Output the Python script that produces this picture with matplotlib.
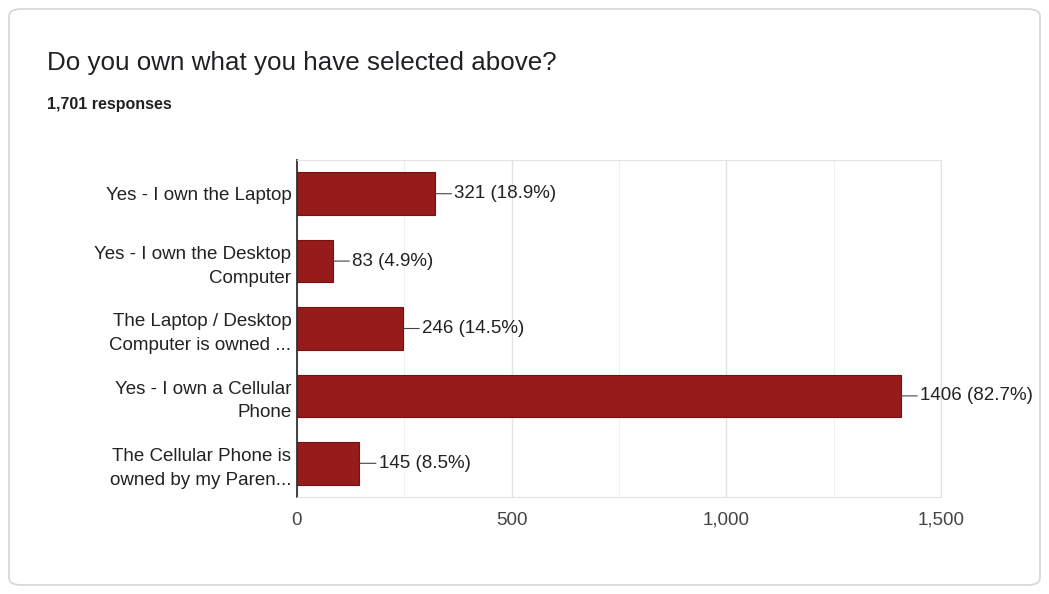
import matplotlib.pyplot as plt
from matplotlib.patches import FancyBboxPatch

# Respostas do formulário
categorias = [
    "Yes - I own the Laptop",
    "Yes - I own the Desktop\nComputer",
    "The Laptop / Desktop\nComputer is owned ...",
    "Yes - I own a Cellular\nPhone",
    "The Cellular Phone is\nowned by my Paren...",
]
respostas = [321, 83, 246, 1406, 145]
percentuais = ["18.9%", "4.9%", "14.5%", "82.7%", "8.5%"]
ticks_x = [0, 500, 1000, 1500]
rotulos_x = ["0", "500", "1,000", "1,500"]

plt.rcParams["font.family"] = ["Liberation Sans", "DejaVu Sans"]

fig = plt.figure(figsize=(10.49, 5.94), dpi=100)
fig.patch.set_facecolor("white")

# Cartão com borda arredondada
cartao = FancyBboxPatch((9 / 1049, 9 / 594), 1031 / 1049, 576 / 594,
                        boxstyle="round,pad=0,rounding_size=0.012",
                        transform=fig.transFigure, facecolor="none",
                        edgecolor="#d6d6d6", linewidth=1.2, zorder=-1)
fig.patches.append(cartao)

fig.text(47 / 1049, 1 - 63 / 594, "Do you own what you have selected above?",
         fontsize=18.7, color="#202124", va="center", ha="left")
fig.text(47 / 1049, 1 - 104 / 594, "1,701 responses",
         fontsize=11.5, color="#202124", va="center", ha="left", fontweight="bold")

ax = fig.add_axes([297 / 1049, 1 - 497 / 594, (941 - 297) / 1049, (497 - 160) / 594])
y = range(len(categorias))
ax.barh(y, respostas, height=0.63, color="#961b1b", edgecolor="#761111", linewidth=0.8, zorder=3)
ax.set_ylim(len(categorias) - 0.5, -0.5)
ax.set_xlim(0, 1500)

ax.set_yticks(list(y))
ax.set_yticklabels(categorias, fontsize=13.5, color="#222222", linespacing=1.5)
ax.tick_params(axis="y", length=0, pad=4)
ax.set_xticks(ticks_x)
ax.set_xticklabels(rotulos_x, fontsize=13.5, color="#444444", va="baseline")
ax.tick_params(axis="x", length=0, pad=20)

# Linhas de grade
ax.set_xticks([250, 750, 1250], minor=True)
ax.grid(axis="x", which="major", color="#e2e2e2", linewidth=1.0, zorder=0)
ax.grid(axis="x", which="minor", color="#f0f0f0", linewidth=0.8, zorder=0)
ax.tick_params(axis="x", which="minor", length=0)

for lado in ["top", "right", "bottom"]:
    ax.spines[lado].set_color("#e2e2e2")
ax.spines["left"].set_color("#333333")
ax.spines["left"].set_linewidth(1.3)

# Rótulos de valor com linha de ligação
for i, (v, p) in enumerate(zip(respostas, percentuais)):
    ax.annotate(f"{v} ({p})", xy=(v, i), xytext=(14, 0), textcoords="offset points",
                va="center", ha="left", fontsize=13.5, color="#222222",
                arrowprops=dict(arrowstyle="-", color="#444444", linewidth=0.8,
                                shrinkA=0, shrinkB=0))

plt.savefig("out.png", dpi=100)
